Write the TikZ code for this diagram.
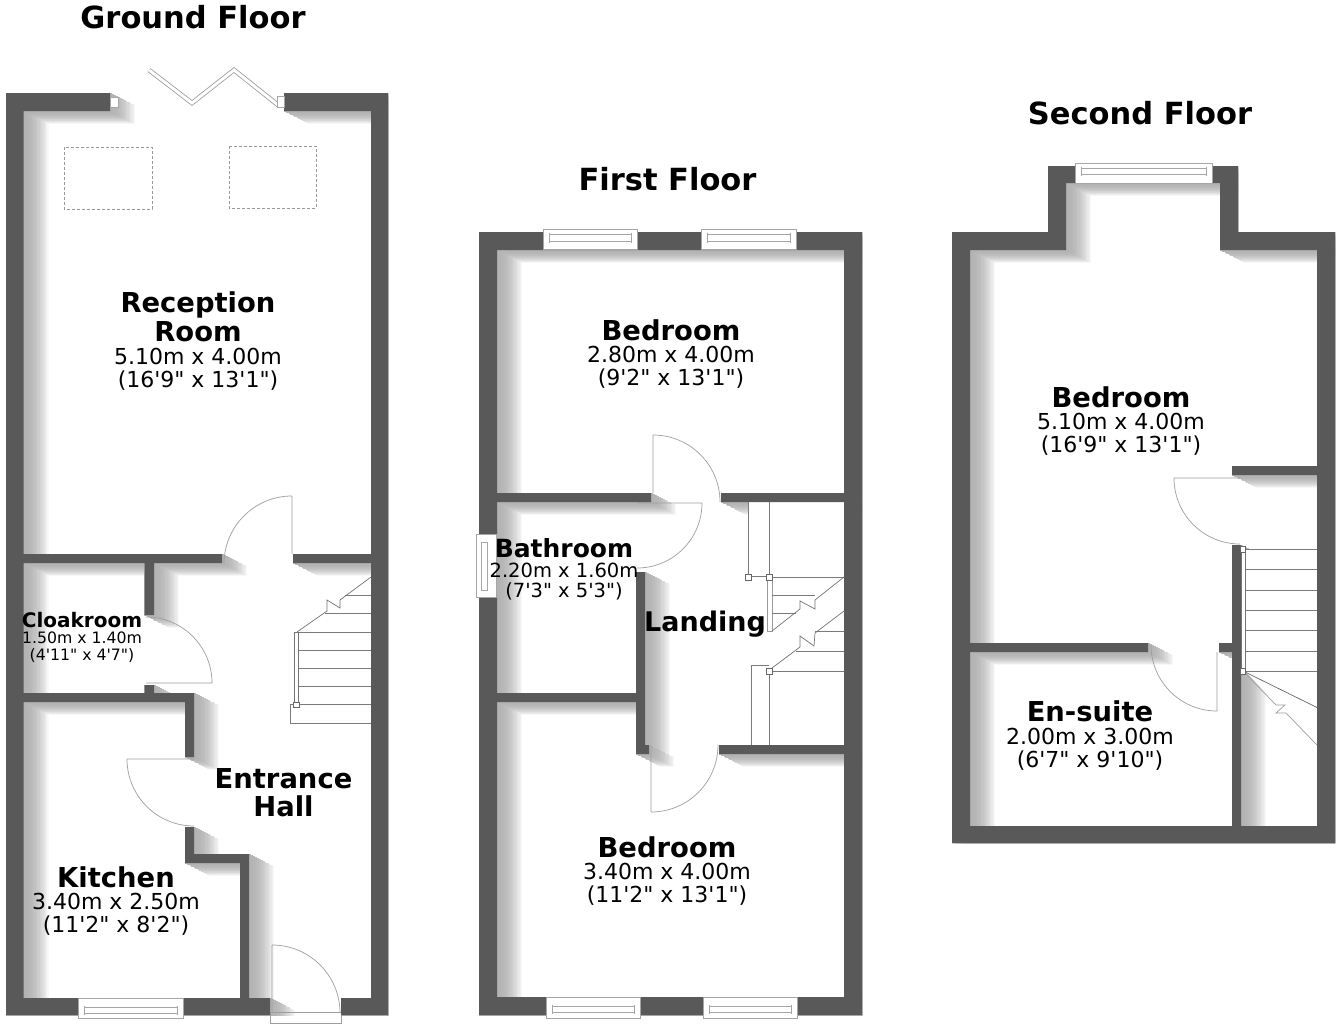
\documentclass[tikz,border=0pt]{standalone}
\usepackage{fontspec}
\setmainfont{DejaVu Sans}[Ligatures=TeXOff]
\def\fs#1{\fontsize{#1}{#1}\selectfont}
\definecolor{wallc}{HTML}{595959}
\tikzset{
  wallf/.style={fill=wallc,draw=none},
  thin door/.style={draw=black!38,line width=.7pt},
  tread/.style={draw=black!52,line width=.9pt},
  winline/.style={draw=black!35,line width=.8pt,fill=white},
  newel/.style={draw=black!60,line width=.7pt,fill=white},
  skylight/.style={draw=black!40,line width=.6pt,densely dashed},
  head/.style={font=\bfseries\fs{30.5},text=black,inner sep=0pt},
  room/.style={align=center,inner sep=0pt,text=black}
}
% wall lists
\def\gwalls{(6,93) rectangle (110,111) (284,93) rectangle (388,111)
 (6,93) rectangle (23.5,1015) (371,93) rectangle (388,1015)
 (23,554) rectangle (222,563) (293,554) rectangle (371,563)
 (144.5,563) rectangle (154,615) (144.5,685) rectangle (154,693)
 (23,693) rectangle (194,702) (185,693) rectangle (194,757)
 (185,827) rectangle (194,863) (185,854) rectangle (249,863)
 (240,854) rectangle (249,998)
 (6,998) rectangle (78,1015) (183,998) rectangle (270,1015) (341,998) rectangle (388,1015)}
\def\fwalls{(479,232) rectangle (862,250) (479,232) rectangle (497,534) (479,597) rectangle (497,1015)
 (844,232) rectangle (862,1015)
 (497,493) rectangle (651,502) (721,493) rectangle (844,502)
 (636,572) rectangle (645,754) (636,745) rectangle (649,754)
 (497,693) rectangle (636,702) (719,745) rectangle (844,754)
 (479,997) rectangle (862,1015)}
\def\swalls{(952,232) rectangle (1066,250) (1048,166) rectangle (1066,250)
 (1048,166) rectangle (1238,183) (1220,166) rectangle (1238,250)
 (1220,232) rectangle (1335,250)
 (952,232) rectangle (970,843) (1317,232) rectangle (1335,843)
 (952,826) rectangle (1335,843)
 (1232,466) rectangle (1317,475) (1232,545) rectangle (1241,826)
 (970,643) rectangle (1148,652) (1219,643) rectangle (1232,652)}
% soft shadow: walls swept down and right, lightest furthest away
\newcommand\softshadow[1]{%
 \foreach \i in {20,19,...,0}{%
  \pgfmathsetmacro\t{\i/20}%
  \pgfmathsetmacro\c{30*(1-\t*\t)}%
  \path[draw=black!\c,fill=black!\c,line width=1pt,line join=round,shift={(26*\t,13*\t)}] #1;}}
% horizontal window: x1 y1 x2 y2 inner-top inner-bottom
\newcommand\hwin[6]{%
 \path[winline] (#1,#2) rectangle (#3,#4);
 \path[winline] (#1+6,#5) rectangle (#3-6,#6);
 \draw[winline] (#1+6,#5-1.5) -- (#1+6,#6+1.5) (#3-6,#5-1.5) -- (#3-6,#6+1.5);}
\begin{document}
\begin{tikzpicture}[x=1pt,y=-1pt]
\useasboundingbox (0,0) rectangle (1336,1025);
\fill[white] (0,0) rectangle (1336,1025);
% shadows
\begin{scope}
 \clip (6,93) rectangle (388,1015);
 \softshadow{\gwalls}
\end{scope}
\begin{scope}
 \clip (479,232) rectangle (862,1015);
 \softshadow{\fwalls (479,534) rectangle (497,597)}
\end{scope}
\begin{scope}
 \clip (952,232) -- (1048,232) -- (1048,166) -- (1238,166) -- (1238,232) -- (1335,232) -- (1335,843) -- (952,843) -- cycle;
 \softshadow{\swalls}
\end{scope}
% stair areas stay clear of shadow
\fill[white] (290,723) -- (290,705) -- (294,705) -- (294,632) -- (297,632) -- (371,577) -- (371,723) -- cycle;
\fill[white] (748,502) rectangle (844,577);
\fill[white] (772,577) -- (844,577) -- (772,631) -- cycle;
\fill[white] (772,668) -- (844,611) -- (844,671) -- cycle;
\fill[white] (751,665) rectangle (769,745);
\fill[white] (769,671) rectangle (844,745);
\fill[white] (1245,549) rectangle (1317,671);
\fill[white] (1245,671) -- (1317,671) -- (1317,745) -- cycle;
% ---- ground floor details
\path[skylight] (64,147) rectangle (152,209);
\path[skylight] (229,146) rectangle (316,208);
\draw[draw=black!40,line width=4.6pt,miter limit=10] (149,70) -- (192,103) -- (234,70) -- (278,105);
\draw[draw=white,line width=3pt,miter limit=10] (149,70) -- (192,103) -- (234,70) -- (278,105);
% doors
\draw[thin door] (292,496) -- (292,554) (292,496) arc[start angle=90,end angle=180,radius=68pt];
\draw[thin door] (146,683) -- (212,683) (146,617) arc[start angle=90,end angle=0,radius=66pt];
\draw[thin door] (127,759) -- (194,759) (127,759) arc[start angle=180,end angle=270,radius=67pt];
\draw[thin door] (272,945) -- (272,1012) (272,945) arc[start angle=90,end angle=0,radius=68pt];
\draw[thin door] (270,1012) rectangle (341,1023);
% stairs
\draw[tread] (298,632) -- (371,632) (298,650) -- (371,650) (298,668.5) -- (371,668.5) (298,686.7) -- (371,686.7)
 (298,704.7) -- (371,704.7) (325,613) -- (371,613) (345,595) -- (371,595);
\draw[tread] (290,704.7) rectangle (371,723);
\draw[thin door,draw=black!55] (294,632) rectangle (298,703);
\draw[thin door,draw=black!55] (297,632) -- (327,611) -- (327,600) -- (340,608) -- (340,600) -- (371,577);
\path[newel] (293,702) rectangle (299,707);
% ---- first floor details
\draw[thin door] (653,435) -- (653,493) (653,435) arc[start angle=90,end angle=0,radius=67pt];
\draw[thin door] (637,503) -- (702,503) (702,503) arc[start angle=0,end angle=-90,radius=65pt];
\draw[thin door] (651,745) -- (651,812) (651,812) arc[start angle=270,end angle=360,radius=67pt];
\draw[tread] (748,502) -- (748,575) (769,502) -- (769,575) (748,576) -- (769,576);
\draw[tread,draw=black!40] (767,577) rectangle (772,631);
\draw[tread] (772,577) -- (844,577) (772,595) -- (815,595) (772,613) -- (796,613);
\draw[thin door,draw=black!55] (844,577) -- (815,600) -- (815,609) -- (800,601) -- (800,609) -- (772,631);
\draw[thin door,draw=black!55] (844,611) -- (815,633) -- (814,646) -- (800,636) -- (800,647) -- (772,668);
\draw[tread] (815,631) -- (844,631) (796,651) -- (844,651) (769,671) -- (844,671);
\draw[tread] (769,671) -- (769,745) (769,665) -- (751,665) -- (751,745);
\path[newel] (745,574) rectangle (751,580);
\path[newel] (766,574) rectangle (772,580);
\path[newel] (766,668) rectangle (772,674);
% ---- second floor details
\draw[thin door] (1174,478) -- (1240,478) (1174,478) arc[start angle=180,end angle=270,radius=66pt];
\draw[thin door] (1217,652) -- (1217,711) (1151,645) arc[start angle=180,end angle=270,radius=66pt];
\draw[tread] (1245,549) -- (1317,549) (1245,569.6) -- (1317,569.6) (1245,590) -- (1317,590) (1245,610) -- (1317,610)
 (1245,630) -- (1317,630) (1245,651) -- (1317,651) (1245,671) -- (1317,671);
\draw[thin door,draw=black!60] (1243,671) -- (1318,708);
\draw[thin door] (1243,671) -- (1276,705) -- (1285,705) -- (1276,713) -- (1286,713) -- (1317,745);
% ---- walls
\path[wallf] \gwalls;
\path[wallf] \fwalls;
\path[wallf] \swalls;
% ---- over the walls
\path[winline] (110,97) rectangle (118,107);
\path[winline] (277,96) rectangle (284,107);
\hwin{78}{998}{183}{1018}{1007}{1013}
\hwin{543}{229}{637}{249}{234}{241}
\hwin{701}{229}{796}{249}{234}{241}
\hwin{546}{997}{640}{1018}{1006}{1012}
\hwin{703}{997}{797}{1018}{1006}{1012}
\hwin{1075}{163}{1212}{183}{168}{174}
\path[winline] (476,534) rectangle (496,597);
\path[winline] (481,542) rectangle (487,590);
\draw[thin door,draw=black!55,fill=white] (1241,549) rectangle (1245,671);
\path[newel] (1240,546.5) rectangle (1245.5,552);
\path[newel] (1240,668) rectangle (1245.5,674);
% ---- text
\node[head] (t1) at (193,17.5) {Ground Floor};
\node[head] (t2) at (667.5,179.5) {First Floor};
\node[head] (t3) at (1140,113.5) {Second Floor};
\node[room] (r1) at (198,341) {\bfseries\fs{27.4}Reception\\[2pt]\bfseries\fs{27.4}Room\\[5pt]\mdseries\fs{22}5.10m x 4.00m\\[5pt]\mdseries\fs{22}(16'9" x 13'1")};
\node[room] (r2) at (671,354) {\bfseries\fs{27.4}Bedroom\\[5pt]\mdseries\fs{22}2.80m x 4.00m\\[5pt]\mdseries\fs{22}(9'2" x 13'1")};
\node[room] (r3) at (564,569) {\bfseries\fs{25}Bathroom\\[4pt]\mdseries\fs{19.5}2.20m x 1.60m\\[4pt]\mdseries\fs{19.5}(7'3" x 5'3")};
\node[room] (r4) at (705,624) {\bfseries\fs{27}Landing};
\node[room] (r5) at (667,871) {\bfseries\fs{27.4}Bedroom\\[5pt]\mdseries\fs{22}3.40m x 4.00m\\[5pt]\mdseries\fs{22}(11'2" x 13'1")};
\node[room] (r6) at (283.5,793) {\bfseries\fs{27.4}Entrance\\[6pt]\bfseries\fs{27.4}Hall};
\node[room] (r7) at (116,901) {\bfseries\fs{27.4}Kitchen\\[5pt]\mdseries\fs{22}3.40m x 2.50m\\[5pt]\mdseries\fs{22}(11'2" x 8'2")};
\node[room] (r8) at (82,637) {\bfseries\fs{20}Cloakroom\\[4pt]\mdseries\fs{15.7}1.50m x 1.40m\\[4pt]\mdseries\fs{15.7}(4'11" x 4'7")};
\node[room] (r9) at (1121,421) {\bfseries\fs{27.4}Bedroom\\[5pt]\mdseries\fs{22}5.10m x 4.00m\\[5pt]\mdseries\fs{22}(16'9" x 13'1")};
\node[room] (r10) at (1090,735.5) {\bfseries\fs{27.4}En-suite\\[5pt]\mdseries\fs{22}2.00m x 3.00m\\[5pt]\mdseries\fs{22}(6'7" x 9'10")};
\end{tikzpicture}
\end{document}
